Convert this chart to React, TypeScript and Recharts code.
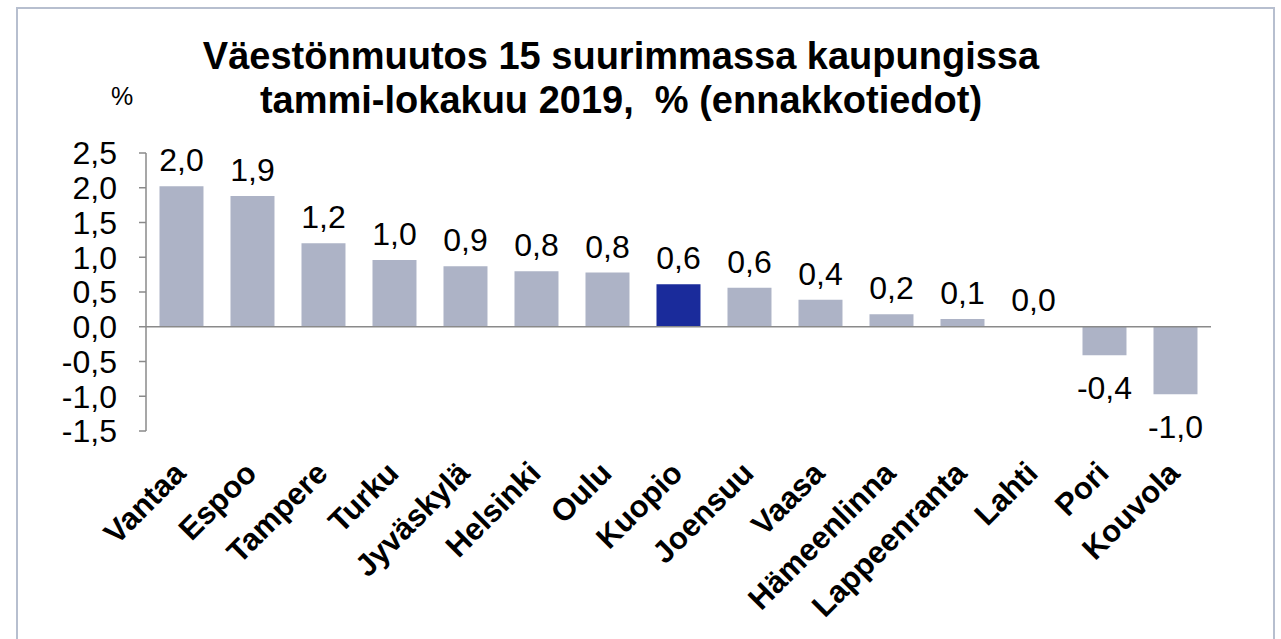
import React from 'react';
import { Bar, BarChart, Cell, LabelList, ReferenceLine, XAxis, YAxis } from 'recharts';

const cities = [
  'Vantaa', 'Espoo', 'Tampere', 'Turku', 'Jyväskylä', 'Helsinki', 'Oulu', 'Kuopio',
  'Joensuu', 'Vaasa', 'Hämeenlinna', 'Lappeenranta', 'Lahti', 'Pori', 'Kouvola',
];
const changes = [2.02, 1.88, 1.2, 0.96, 0.87, 0.8, 0.78, 0.61, 0.56, 0.39, 0.18, 0.11, 0.01, -0.41, -0.97];
const yTicks = [-1.5, -1.0, -0.5, 0, 0.5, 1.0, 1.5, 2.0, 2.5];
const highlight = 'Kuopio';

const data = cities.map((name, i) => ({ name, value: changes[i] }));

const FONT = '"Liberation Sans", Arial, sans-serif';
const fmt = (v: number) => v.toFixed(1).replace('.', ',');

// rotated city names, ending just right of the bar centre
const CityTick = (props: any) => {
  const { x, y, payload } = props;
  const px = x + 6;
  const py = y + 44;
  return (
    <text
      x={px}
      y={py}
      transform={`rotate(-45, ${px}, ${py})`}
      textAnchor="end"
      fontFamily={FONT}
      fontWeight="bold"
      fontSize={31}
      fill="#000"
    >
      {payload.value}
    </text>
  );
};

const ValueLabel = (props: any) => {
  const { x, y, width, height, value } = props;
  const top = Math.min(y, y + height);
  const bottom = Math.max(y, y + height);
  const cx = x + width / 2;
  const ty = value < 0 ? bottom + 44 : top - 15;
  return (
    <text x={cx} y={ty} textAnchor="middle" fontFamily={FONT} fontSize={32} fill="#000">
      {fmt(value)}
    </text>
  );
};

const App = () => (
  <div style={{ position: 'fixed', top: 0, left: 0, width: 1281, height: 639, overflow: 'hidden', background: '#fff' }}>
    <div
      style={{
        position: 'absolute', left: 16, top: 7, width: 1255, height: 700,
        border: '2px solid #b7bfcf',
      }}
    />
    <div
      style={{
        position: 'absolute', left: 0, top: 34, width: 1242, textAlign: 'center',
        fontFamily: FONT, fontWeight: 'bold', fontSize: 38, lineHeight: '44px', color: '#000',
      }}
    >
      <div>Väestönmuutos 15 suurimmassa kaupungissa</div>
      <div>tammi-lokakuu 2019,&nbsp; % (ennakkotiedot)</div>
    </div>
    <div style={{ position: 'absolute', left: 111, top: 81, fontFamily: FONT, fontSize: 25, lineHeight: '30px' }}>%</div>
    <div style={{ position: 'absolute', left: 0, top: 0 }}>
      <BarChart
        width={1281}
        height={639}
        data={data}
        margin={{ top: 153, right: 70, bottom: 0, left: 0 }}
        barCategoryGap="19%"
      >
        <XAxis dataKey="name" height={208} axisLine={false} tickLine={false} tickSize={0} tickMargin={0} interval={0} tick={<CityTick />} />
        <YAxis
          width={146}
          domain={[-1.5, 2.5]}
          ticks={yTicks}
          interval={0}
          tickFormatter={fmt}
          axisLine={{ stroke: '#8a8a8a', strokeWidth: 1.5 }}
          tickLine={{ stroke: '#8a8a8a', strokeWidth: 1.5 }}
          tickSize={7}
          tickMargin={22}
          tick={{ fontFamily: FONT, fontSize: 32, fill: '#000' }}
        />
        <ReferenceLine y={0} stroke="#8a8a8a" strokeWidth={1.5} />
        <Bar dataKey="value" isAnimationActive={false}>
          {data.map((d) => (
            <Cell key={d.name} fill={d.name === highlight ? '#1a2b9b' : '#adb3c6'} />
          ))}
          <LabelList dataKey="value" content={<ValueLabel />} />
        </Bar>
      </BarChart>
    </div>
  </div>
);

export default App;
